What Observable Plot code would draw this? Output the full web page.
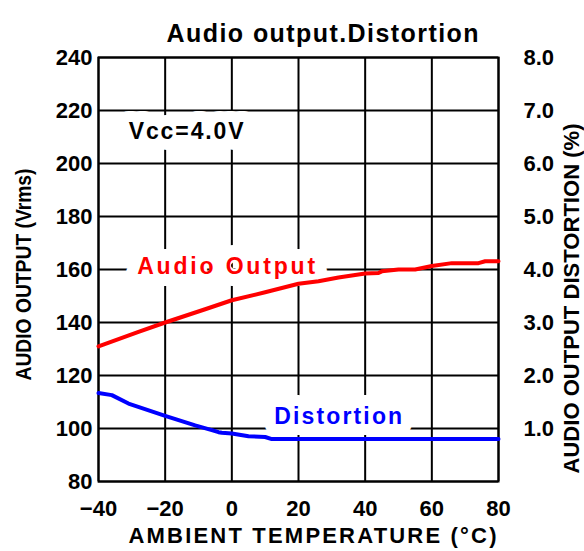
<!DOCTYPE html>
<html>
<head>
<meta charset="utf-8">
<script src="https://cdn.jsdelivr.net/npm/d3@7"></script>
<script src="https://cdn.jsdelivr.net/npm/@observablehq/plot@0.6"></script>
<style>
  html, body { margin: 0; padding: 0; background: white; }
</style>
</head>
<body>
<div id="chart"></div>
<script>
// ---- data ----
const xTicks = [-40, -20, 0, 20, 40, 60, 80];
const yTicks = [80, 100, 120, 140, 160, 180, 200, 220, 240];
const pctTicks = [1, 2, 3, 4, 5, 6, 7, 8]; // right axis, DISTORTION (%)

// Audio output (Vrms) vs ambient temperature (°C)
const audioTemp = [-40, -28, -20, -8, 0, 10, 20, 26, 32, 40, 44, 45, 50, 55, 60, 66, 74, 76, 80];
const audioVal  = [131, 136.5, 140, 145, 148.4, 151.4, 154.6, 155.6, 157, 158.5, 158.7, 159.3, 160, 160, 161.3, 162.4, 162.4, 163.1, 163.1];

// Distortion (%) vs ambient temperature (°C)
const distTemp = [-40, -36, -31, -20, -11, -6, -4, -3, 0, 5, 10, 12, 80];
const distPct  = [1.67, 1.63, 1.47, 1.24, 1.06, 0.97, 0.93, 0.92, 0.905, 0.855, 0.84, 0.80, 0.80];

const titleText = "Audio output.Distortion";
const xTitle = "AMBIENT TEMPERATURE (°C)";
const yTitleLeft = "AUDIO OUTPUT (Vrms)";
const yTitleRight = "AUDIO OUTPUT DISTORTION (%)";
const condText = "Vcc=4.0V";
const audioLabel = "Audio Output";
const distLabel = "Distortion";

// ---- build tables ----
const audio = audioTemp.map((t, i) => ({t, v: audioVal[i]}));
const dist = distTemp.map((t, i) => ({t, p: distPct[i]}));
const pctToY = p => 80 + 20 * p; // right axis mapping: 0% at 80, 8% at 240

const FONT = "Liberation Sans";

// label with a white halo underneath (covers the grid behind it)
function haloLabel(txt, x, y, color, halo) {
  const common = {x, y, text: d => d, fontSize: 23, fontWeight: "bold"};
  return [
    Plot.text([txt], {...common, fill: "white", stroke: "white", strokeWidth: halo, strokeLinejoin: "round"}),
    Plot.text([txt], {...common, fill: color})
  ];
}

const chart = Plot.plot({
  width: 584,
  height: 551,
  marginTop: 57,
  marginBottom: 70,
  marginLeft: 98,
  marginRight: 86,
  style: {fontFamily: FONT, background: "white", color: "black"},
  x: {domain: [-40, 80], axis: null},
  y: {domain: [80, 240], axis: null},
  marks: [
    Plot.gridX(xTicks, {stroke: "black", strokeOpacity: 1, strokeWidth: 2}),
    Plot.gridY(yTicks, {stroke: "black", strokeOpacity: 1, strokeWidth: 2}),
    Plot.frame({stroke: "black", strokeWidth: 2}),
    Plot.axisX(xTicks, {tickSize: 0, tickPadding: 19, label: null, fontSize: 22, fontWeight: "bold"}),
    Plot.axisY(yTicks, {anchor: "left", tickSize: 0, tickPadding: 6, label: null, fontSize: 22, fontWeight: "bold"}),
    Plot.axisY(pctTicks.map(pctToY), {anchor: "right", tickSize: 0, tickPadding: 25, label: null,
      tickFormat: v => ((v - 80) / 20).toFixed(1), fontSize: 22, fontWeight: "bold"}),
    ...haloLabel(condText, -13.7, 212, "black", 22),
    ...haloLabel(audioLabel, -1.7, 161.2, "#ff0000", 24),
    ...haloLabel(distLabel, 31.9, 104.6, "#0000ff", 22),
    // series
    Plot.line(audio, {x: "t", y: "v", stroke: "#ff0000", strokeWidth: 4, strokeLinejoin: "round"}),
    Plot.line(dist, {x: "t", y: d => pctToY(d.p), stroke: "#0000ff", strokeWidth: 4, strokeLinejoin: "round"}),
    // titles
    Plot.text([titleText], {frameAnchor: "top", textAnchor: "middle", dx: 24, dy: -33, text: d => d, fontSize: 25, fontWeight: "bold"}),
    Plot.text([xTitle], {frameAnchor: "bottom", textAnchor: "middle", dx: 14, dy: 61, text: d => d, fontSize: 22, fontWeight: "bold"}),
    Plot.text([yTitleLeft], {frameAnchor: "left", textAnchor: "middle", dx: -75, dy: 5, rotate: -90, text: d => d, fontSize: 22, fontWeight: "bold"}),
    Plot.text([yTitleRight], {frameAnchor: "right", textAnchor: "middle", dx: 73, dy: 29, rotate: -90, text: d => d, fontSize: 22, fontWeight: "bold"})
  ]
});

document.getElementById("chart").appendChild(chart);

// fit text lengths to the reference
const fits = [
  [titleText, 312, "spacing"],
  [xTitle, 368, "spacing"],
  [yTitleLeft, 212, "spacingAndGlyphs"],
  [yTitleRight, 350, "spacing"],
  [audioLabel, 178, "spacing"],
  [distLabel, 128, "spacing"],
  [condText, 115, "spacing"]
];
d3.select(chart).selectAll("text").each(function () {
  const s = this.textContent;
  for (const [t, len, adj] of fits) {
    if (s === t) {
      this.setAttribute("textLength", len);
      this.setAttribute("lengthAdjust", adj);
    }
  }
});
</script>
</body>
</html>
